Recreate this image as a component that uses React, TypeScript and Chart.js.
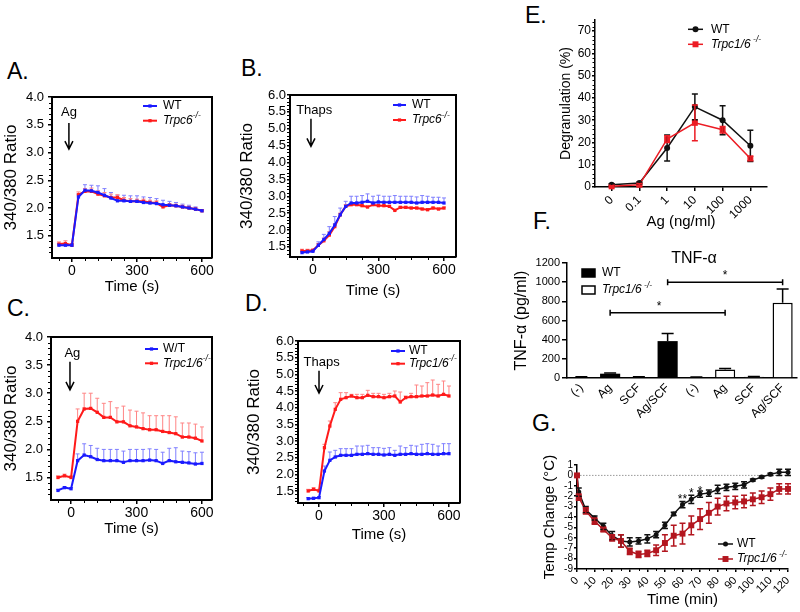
import React, { useEffect, useRef } from 'react';
import { Chart, registerables } from 'chart.js';

Chart.register(...registerables);

const FONT = "'Liberation Sans', Arial, Helvetica, sans-serif";
Chart.defaults.font.family = FONT;
Chart.defaults.color = '#000';

/* ======================= DATA ======================= */
// Panels A & C : Ag-evoked Ca2+ (340/380 ratio), sampled every 30 s
const timesAC = [-60, -30, 0, 30, 60, 90, 120, 150, 180, 210, 240, 270, 300, 330, 360, 390, 420, 450, 480, 510, 540, 570, 600];
const aWT = [1.33, 1.33, 1.33, 2.2, 2.32, 2.31, 2.28, 2.23, 2.18, 2.13, 2.13, 2.12, 2.12, 2.1, 2.09, 2.08, 2.06, 2.05, 2.04, 2.02, 2.0, 1.98, 1.95];
const aWTErr = [0.03, 0.03, 0.03, 0.05, 0.1, 0.1, 0.12, 0.12, 0.1, 0.1, 0.1, 0.1, 0.1, 0.1, 0.1, 0.09, 0.08, 0.07, 0.06, 0.05, 0.05, 0.04, 0.02];
const aKO = [1.35, 1.36, 1.33, 2.24, 2.3, 2.3, 2.25, 2.22, 2.19, 2.19, 2.14, 2.12, 2.12, 2.12, 2.1, 2.09, 2.02, 2.05, 2.04, 2.02, 2.0, 1.98, 1.95];
const aKOErr = [0.04, 0.05, 0.03, 0.05, 0.05, 0.06, 0.06, 0.06, 0.06, 0.05, 0.05, 0.05, 0.04, 0.04, 0.04, 0.04, 0.04, 0.03, 0.03, 0.03, 0.03, 0.03, 0.02];
const cWT = [1.27, 1.32, 1.3, 1.8, 1.9, 1.87, 1.82, 1.8, 1.8, 1.8, 1.77, 1.8, 1.8, 1.8, 1.81, 1.8, 1.75, 1.8, 1.78, 1.77, 1.76, 1.74, 1.75];
const cWTErr = [0.02, 0.02, 0.02, 0.12, 0.2, 0.2, 0.2, 0.2, 0.2, 0.2, 0.2, 0.2, 0.2, 0.2, 0.2, 0.2, 0.2, 0.22, 0.25, 0.2, 0.2, 0.2, 0.2];
const cKO = [1.5, 1.53, 1.5, 2.5, 2.72, 2.73, 2.66, 2.57, 2.57, 2.49, 2.49, 2.42, 2.4, 2.37, 2.35, 2.35, 2.32, 2.3, 2.28, 2.22, 2.22, 2.2, 2.15];
const cKOErr = [0.03, 0.03, 0.03, 0.22, 0.28, 0.27, 0.25, 0.25, 0.28, 0.25, 0.28, 0.28, 0.28, 0.28, 0.25, 0.25, 0.28, 0.3, 0.3, 0.25, 0.25, 0.25, 0.25];

// Panels B & D : thapsigargin-evoked Ca2+, sampled every 25 s
const timesBD = [-50, -25, 0, 25, 50, 75, 100, 125, 150, 175, 200, 225, 250, 275, 300, 325, 350, 375, 400, 425, 450, 475, 500, 525, 550, 575, 600];
const bWT = [1.33, 1.35, 1.37, 1.55, 1.72, 1.9, 2.15, 2.45, 2.7, 2.8, 2.8, 2.82, 2.85, 2.8, 2.83, 2.82, 2.82, 2.82, 2.82, 2.82, 2.82, 2.8, 2.82, 2.82, 2.82, 2.82, 2.8];
const bWTErr = [0.05, 0.06, 0.05, 0.1, 0.15, 0.2, 0.25, 0.2, 0.15, 0.2, 0.2, 0.2, 0.22, 0.2, 0.2, 0.18, 0.18, 0.2, 0.18, 0.18, 0.18, 0.18, 0.2, 0.18, 0.15, 0.15, 0.15];
const bKO = [1.38, 1.38, 1.4, 1.55, 1.68, 1.85, 2.1, 2.45, 2.7, 2.75, 2.75, 2.72, 2.68, 2.75, 2.72, 2.72, 2.7, 2.58, 2.67, 2.67, 2.65, 2.65, 2.62, 2.6, 2.65, 2.62, 2.65];
const bKOErr = [0.05, 0.05, 0.03, 0.05, 0.08, 0.1, 0.08, 0.05, 0.05, 0.03, 0.03, 0.03, 0.03, 0.03, 0.03, 0.03, 0.03, 0.03, 0.03, 0.03, 0.03, 0.03, 0.03, 0.03, 0.03, 0.03, 0.03];
const dWT = [1.27, 1.28, 1.3, 2.1, 2.42, 2.52, 2.57, 2.57, 2.57, 2.6, 2.6, 2.62, 2.6, 2.6, 2.58, 2.6, 2.57, 2.6, 2.6, 2.62, 2.6, 2.6, 2.62, 2.6, 2.6, 2.62, 2.62];
const dWTErr = [0.03, 0.03, 0.03, 0.15, 0.25, 0.2, 0.2, 0.2, 0.2, 0.25, 0.25, 0.25, 0.2, 0.2, 0.2, 0.2, 0.15, 0.25, 0.2, 0.25, 0.25, 0.3, 0.3, 0.3, 0.25, 0.3, 0.3];
const dKO = [1.5, 1.55, 1.5, 2.8, 3.45, 3.95, 4.25, 4.3, 4.35, 4.3, 4.3, 4.37, 4.33, 4.33, 4.3, 4.33, 4.35, 4.17, 4.3, 4.33, 4.33, 4.35, 4.35, 4.38, 4.35, 4.4, 4.35];
const dKOErr = [0.05, 0.05, 0.05, 0.1, 0.15, 0.2, 0.2, 0.15, 0.05, 0.1, 0.1, 0.15, 0.1, 0.1, 0.1, 0.1, 0.15, 0.3, 0.05, 0.1, 0.35, 0.3, 0.4, 0.45, 0.35, 0.4, 0.3];

const ratioTicksAC = [1.5, 2.0, 2.5, 3.0, 3.5, 4.0];
const ratioTicksBD = [1.5, 2.0, 2.5, 3.0, 3.5, 4.0, 4.5, 5.0, 5.5, 6.0];
const timeTicks = [0, 300, 600];

// Panel E : degranulation
const eDoses = ['0', '0.1', '1', '10', '100', '1000'];
const eWT = [1.0, 1.8, 17.5, 36, 30, 18.5];
const eWTErr = [0.5, 0.5, 5.8, 5.8, 6.5, 7];
const eKO = [0.3, 1.0, 21.5, 28.8, 25.7, 12.8];
const eKOErr = [0.3, 0.5, 1.5, 8, 1.5, 1];
const eTicks = [0, 10, 20, 30, 40, 50, 60, 70];

// Panel F : TNF-alpha
const fStim = ['(-)', 'Ag', 'SCF', 'Ag/SCF'];
const fWT = [10, 45, 10, 385];
const fWTErr = [3, 8, 3, 80];
const fKO = [8, 90, 12, 785];
const fKOErr = [3, 10, 3, 145];
const fTicks = [0, 200, 400, 600, 800, 1000, 1200];

// Panel G : body temperature
const gTimes = [0, 1, 5, 10, 15, 20, 25, 30, 35, 40, 45, 50, 55, 60, 65, 70, 75, 80, 85, 90, 95, 100, 105, 110, 115, 120];
const gWT = [0, -1.6, -3.3, -4.1, -4.9, -5.8, -6.3, -6.4, -6.3, -6.1, -5.7, -4.8, -3.7, -2.8, -2.3, -1.8, -1.7, -1.35, -1.15, -1.05, -0.9, -0.45, -0.15, 0.1, 0.3, 0.3];
const gWTErr = [0, 0.4, 0.3, 0.2, 0.3, 0.4, 0.6, 0.4, 0.3, 0.4, 0.3, 0.3, 0.15, 0.3, 0.4, 0.3, 0.3, 0.4, 0.3, 0.3, 0.3, 0.1, 0.1, 0.1, 0.3, 0.3];
const gKO = [0, -2.1, -3.4, -4.4, -5.2, -6.0, -6.3, -7.3, -7.6, -7.5, -7.2, -6.5, -5.8, -5.6, -4.8, -4.2, -3.6, -3.0, -2.7, -2.6, -2.5, -2.3, -2.1, -1.8, -1.3, -1.3];
const gKOErr = [0, 0.3, 0.3, 0.3, 0.2, 0.3, 0.6, 0.3, 0.3, 0.3, 0.5, 0.8, 1.0, 1.0, 0.9, 1.0, 1.0, 0.8, 0.7, 0.6, 0.6, 0.6, 0.6, 0.6, 0.5, 0.5];
const gTicks = [0, 10, 20, 30, 40, 50, 60, 70, 80, 90, 100, 110, 120];
const gYTicks = [-9, -8, -7, -6, -5, -4, -3, -2, -1, 0, 1];

/* ======================= STYLE ======================= */
const BLUE = '#1a1aff';
const RED = '#ff1a1a';
const BLUE_ERR = '#7f7fff';
const RED_ERR = '#ff8585';
const E_RED = '#ec1c24';
const G_RED = '#b3161f';

const WT_PARTS = [{ t: 'WT' }];
const KO6 = [{ t: 'Trpc6', i: true }, { t: '-/-', i: true, sup: true }];
const KO16 = [{ t: 'Trpc1/6', i: true }, { t: '-/-', i: true, sup: true }];
const KO16s = [{ t: 'Trpc1/6', i: true }, { t: ' -/-', i: true, sup: true }];

const pts = (xs: number[], ys: number[]) => xs.map((x, i) => ({ x, y: ys[i] }));

function minorRange(a: number, b: number, step: number, skip: number[]) {
  const out: number[] = [];
  const n = Math.round((b - a) / step);
  for (let k = 0; k <= n; k++) {
    const v = Math.round((a + k * step) * 1000) / 1000;
    if (!skip.some((s) => Math.abs(s - v) < 1e-6)) out.push(v);
  }
  return out;
}

function drawRich(ctx: any, parts: any[], x: number, y: number, size: number) {
  ctx.textBaseline = 'middle';
  ctx.textAlign = 'left';
  let cx = x;
  for (const p of parts) {
    const s = p.sup ? size * 0.7 : size;
    ctx.font = `${p.i ? 'italic ' : ''}${s}px ${FONT}`;
    ctx.fillText(p.t, cx, p.sup ? y - size * 0.38 : y);
    cx += ctx.measureText(p.t).width;
  }
}

function makeExtras(ex: any) {
  const drawErrors = (chart: any, behind: boolean) => {
    if (!ex.errors) return;
    const ctx = chart.ctx;
    for (const e of ex.errors) {
      if (!!e.behind !== behind) continue;
      const meta = chart.getDatasetMeta(e.ds);
      const ys = chart.scales[meta.yAxisID];
      const data = chart.data.datasets[e.ds].data;
      ctx.save();
      ctx.strokeStyle = e.color;
      ctx.lineWidth = e.width;
      meta.data.forEach((el: any, i: number) => {
        const raw = data[i];
        const v = raw !== null && typeof raw === 'object' ? raw.y : raw;
        const err = e.errs[i];
        if (v == null || err == null || err === 0) return;
        const x = el.x;
        const y0 = ys.getPixelForValue(v);
        const yt = ys.getPixelForValue(v + err);
        const yb = e.mode === 'both' ? ys.getPixelForValue(v - err) : y0;
        ctx.beginPath();
        ctx.moveTo(x, yb);
        ctx.lineTo(x, yt);
        ctx.moveTo(x - e.cap / 2, yt);
        ctx.lineTo(x + e.cap / 2, yt);
        if (e.mode === 'both') {
          ctx.moveTo(x - e.cap / 2, yb);
          ctx.lineTo(x + e.cap / 2, yb);
        }
        ctx.stroke();
      });
      ctx.restore();
    }
  };
  return {
    id: 'panelExtras',
    beforeDatasetsDraw(chart: any) {
      const { ctx, chartArea: ca, scales } = chart;
      if (ex.hline) {
        const y = scales.y.getPixelForValue(ex.hline.value);
        ctx.save();
        ctx.strokeStyle = ex.hline.color;
        ctx.lineWidth = 1;
        ctx.setLineDash([1.5, 1.5]);
        ctx.beginPath();
        ctx.moveTo(ca.left, y);
        ctx.lineTo(ca.right, y);
        ctx.stroke();
        ctx.restore();
      }
      drawErrors(chart, true);
    },
    afterDatasetsDraw(chart: any) {
      drawErrors(chart, false);
    },
    afterDraw(chart: any) {
      const { ctx, chartArea: ca, scales } = chart;
      const xs = scales.x;
      const ys = scales.y;
      ctx.save();
      ctx.strokeStyle = '#000';
      ctx.fillStyle = '#000';
      if (ex.frame) {
        ctx.lineWidth = ex.frame;
        ctx.beginPath();
        ctx.moveTo(ca.left, ca.top);
        ctx.lineTo(ca.right, ca.top);
        ctx.lineTo(ca.right, ca.bottom);
        ctx.stroke();
      }
      ctx.lineWidth = 1;
      const ml = ex.minorLen || 3;
      (ex.minorY || []).forEach((v: number) => {
        const y = Math.round(ys.getPixelForValue(v)) + 0.5;
        ctx.beginPath();
        ctx.moveTo(ca.left, y);
        ctx.lineTo(ca.left - ml, y);
        ctx.stroke();
      });
      (ex.minorX || []).forEach((v: number) => {
        const x = Math.round(xs.getPixelForValue(v)) + 0.5;
        ctx.beginPath();
        ctx.moveTo(x, ca.bottom);
        ctx.lineTo(x, ca.bottom + ml);
        ctx.stroke();
      });
      (ex.arrows || []).forEach((a: any) => {
        const x = xs.getPixelForValue(a.x);
        const y1 = ys.getPixelForValue(a.y1);
        const y2 = ys.getPixelForValue(a.y2);
        ctx.lineWidth = 1.5;
        ctx.beginPath();
        ctx.moveTo(x, y1);
        ctx.lineTo(x, y2);
        ctx.moveTo(x - 4, y2 - 8);
        ctx.lineTo(x, y2);
        ctx.lineTo(x + 4, y2 - 8);
        ctx.stroke();
      });
      (ex.labels || []).forEach((l: any) => {
        ctx.font = `${l.size}px ${FONT}`;
        ctx.textAlign = 'center';
        ctx.textBaseline = 'alphabetic';
        ctx.fillText(l.text, xs.getPixelForValue(l.x), ys.getPixelForValue(l.y));
      });
      (ex.notes || []).forEach((n: any) => {
        ctx.font = `${n.size}px ${FONT}`;
        ctx.textAlign = 'center';
        ctx.textBaseline = 'middle';
        ctx.fillText(n.text, ca.left + n.dx, ca.top + n.dy);
      });
      (ex.sig || []).forEach((s: any) => {
        const x1 = xs.getPixelForValue(s.from);
        const x2 = xs.getPixelForValue(s.to);
        const y = ys.getPixelForValue(s.value);
        ctx.lineWidth = 1.5;
        ctx.beginPath();
        ctx.moveTo(x1, y);
        ctx.lineTo(x2, y);
        ctx.moveTo(x1, y - 3);
        ctx.lineTo(x1, y + 3);
        ctx.moveTo(x2, y - 3);
        ctx.lineTo(x2, y + 3);
        ctx.stroke();
        ctx.font = `12px ${FONT}`;
        ctx.textAlign = 'center';
        ctx.textBaseline = 'alphabetic';
        ctx.fillText('*', xs.getPixelForValue(s.starAt), y - 3);
      });
      (ex.stars || []).forEach((s: any) => {
        ctx.font = `12px ${FONT}`;
        ctx.textAlign = 'center';
        ctx.textBaseline = 'alphabetic';
        ctx.fillText(s.t, xs.getPixelForValue(s.x), ys.getPixelForValue(s.y) + 7);
      });
      const lg = ex.legend;
      if (lg) {
        lg.items.forEach((it: any, k: number) => {
          const y = ca.top + lg.y + k * lg.dy;
          const x1 = ca.left + lg.x1;
          const x2 = ca.left + lg.x2;
          if (it.marker === 'fillbox' || it.marker === 'openbox') {
            ctx.fillStyle = it.marker === 'fillbox' ? '#000' : '#fff';
            ctx.fillRect(x1, y - 4, x2 - x1, 8);
            ctx.strokeStyle = '#000';
            ctx.lineWidth = 1.5;
            ctx.strokeRect(x1, y - 4, x2 - x1, 8);
          } else {
            ctx.strokeStyle = it.color;
            ctx.fillStyle = it.color;
            ctx.lineWidth = lg.lw;
            ctx.beginPath();
            ctx.moveTo(x1, y);
            ctx.lineTo(x2, y);
            ctx.stroke();
            const cx = (x1 + x2) / 2;
            if (it.marker === 'circle') {
              ctx.beginPath();
              ctx.arc(cx, y, it.mr, 0, Math.PI * 2);
              ctx.fill();
            } else {
              const s = it.mr * Math.SQRT1_2;
              ctx.fillRect(cx - s, y - s, 2 * s, 2 * s);
            }
          }
          ctx.fillStyle = '#000';
          drawRich(ctx, it.parts, ca.left + lg.tx, y, lg.size);
        });
      }
      ctx.restore();
    },
  };
}

function layout(box: number[], area: number[], yTitleX: number, yTitleSize: number, xTitleY: number, xTitleSize: number, xHeightFixed?: number) {
  const [x0, y0, w, h] = box;
  const [L, T, R, B] = area;
  const Lc = L - x0;
  const Tc = T - y0;
  const Rc = R - x0;
  const Bc = B - y0;
  const padLeft = Math.max(0, yTitleX - x0 - yTitleSize * 0.6);
  const yWidth = Lc - padLeft;
  const xHeight = xHeightFixed != null ? xHeightFixed : xTitleY - y0 + xTitleSize * 0.6 - Bc;
  const padBottom = Math.max(0, h - Bc - xHeight);
  return { padding: { left: padLeft, top: Tc, right: w - Rc, bottom: padBottom }, yWidth, xHeight };
}

function axisCfg(a: any, fit: (s: any) => void) {
  const ticks: any = {
    font: { size: a.size, family: FONT },
    color: '#000',
    padding: a.pad,
    autoSkip: false,
    maxRotation: a.rot || 0,
    minRotation: a.rot || 0,
  };
  if (a.fmt) ticks.callback = (v: any) => a.fmt(v);
  const cfg: any = {
    type: a.type || 'linear',
    afterFit: fit,
    ticks,
    grid: {
      display: true,
      drawOnChartArea: false,
      drawTicks: a.tickLen > 0,
      tickLength: a.tickLen,
      color: '#000',
      lineWidth: a.tickW || 1.5,
    },
    border: { display: true, color: '#000', width: a.border },
    title: a.title
      ? { display: true, text: a.title, font: { size: a.titleSize, family: FONT }, color: '#000', padding: 0 }
      : { display: false },
  };
  if (cfg.type === 'linear') {
    cfg.min = a.min;
    cfg.max = a.max;
    const list = a.ticks;
    cfg.afterBuildTicks = (s: any) => {
      s.ticks = list.map((v: number) => ({ value: v }));
    };
  }
  return cfg;
}

function buildConfig(p: any) {
  const L = layout(p.box, p.area, p.yTitleX, p.y.titleSize || 0, p.xTitleY || 0, p.x.titleSize || 0, p.xHeight);
  return {
    box: p.box,
    config: {
      type: p.type,
      data: p.data,
      options: {
        responsive: false,
        maintainAspectRatio: false,
        animation: false,
        devicePixelRatio: 1,
        events: [],
        layout: { padding: L.padding },
        plugins: { legend: { display: false }, tooltip: { enabled: false }, title: { display: false } },
        scales: {
          x: axisCfg(p.x, (s: any) => {
            s.height = L.xHeight;
          }),
          y: axisCfg(p.y, (s: any) => {
            s.width = L.yWidth;
          }),
        },
      },
      plugins: [makeExtras(p.extras)],
    },
  };
}

function trace(label: string, xs: number[], ys: number[], color: string) {
  return {
    label,
    data: pts(xs, ys),
    borderColor: color,
    backgroundColor: color,
    borderWidth: 2,
    pointStyle: 'rect',
    pointRadius: 2.3,
    pointBorderWidth: 0,
    pointHoverRadius: 0,
    tension: 0,
    clip: false,
  };
}

/* ---------- Ca2+ trace panels (A-D) ---------- */
function caPanel(o: any) {
  const bd = o.kind === 'BD';
  const yTicks = bd ? ratioTicksBD : ratioTicksAC;
  const minorXs = bd ? [-75, 75, 150, 225, 375, 450, 525] : [-60, 60, 120, 180, 240, 360, 420, 480, 540];
  return buildConfig({
    type: 'line',
    box: o.box,
    area: o.area,
    yTitleX: o.yTitleX,
    xTitleY: o.xTitleY,
    data: {
      datasets: [trace('WT', o.times, o.wt, BLUE), trace('KO', o.times, o.ko, RED)],
    },
    x: {
      min: o.xMin, max: o.xMax, ticks: timeTicks, fmt: (v: number) => String(v),
      size: 14, tickLen: 4, pad: 1, title: 'Time (s)', titleSize: 15, border: 2,
    },
    y: {
      min: o.yMin, max: bd ? 6.0 : 4.0, ticks: yTicks, fmt: (v: number) => Number(v).toFixed(1),
      size: 13, tickLen: bd ? 3 : 4, pad: bd ? 1 : 4, title: '340/380 Ratio', titleSize: 17, border: 2,
    },
    extras: {
      frame: 2,
      minorLen: 3,
      minorX: minorXs.filter((v) => v > o.xMin),
      minorY: minorRange(1.2, bd ? 5.9 : 3.9, 0.1, yTicks).filter((v) => v > o.yMin),
      errors: [
        { ds: 0, errs: o.wtErr, mode: 'up', color: BLUE_ERR, width: 1, cap: 4, behind: true },
        { ds: 1, errs: o.koErr, mode: 'up', color: RED_ERR, width: 1, cap: 4, behind: true },
      ],
      arrows: [o.arrow],
      labels: [o.label],
      legend: {
        ...o.legend,
        size: 12,
        lw: 2,
        items: [
          { color: BLUE, marker: 'rect', mr: 2.3, parts: o.wtParts || WT_PARTS },
          { color: RED, marker: 'rect', mr: 2.3, parts: o.koParts },
        ],
      },
    },
  });
}

const buildA = () =>
  caPanel({
    kind: 'AC', box: [0, 85, 235, 215], area: [52, 97, 212, 258], yTitleX: 11.7, xTitleY: 287,
    xMin: -92, xMax: 646, yMin: 1.1, times: timesAC, wt: aWT, wtErr: aWTErr, ko: aKO, koErr: aKOErr,
    arrow: { x: -14, y1: 3.53, y2: 3.06 }, label: { text: 'Ag', x: -14, y: 3.66, size: 13 },
    legend: { x1: 91, x2: 105, y: 9, dy: 14.7, tx: 111 }, koParts: KO6,
  });

const buildB = () =>
  caPanel({
    kind: 'BD', box: [235, 85, 235, 215], area: [290, 95, 456, 257], yTitleX: 247.5, xTitleY: 291,
    xMin: -105, xMax: 655, yMin: 1.2, times: timesBD, wt: bWT, wtErr: bWTErr, ko: bKO, koErr: bKOErr,
    arrow: { x: -9, y1: 5.3, y2: 4.48 }, label: { text: 'Thaps', x: 6, y: 5.45, size: 13 },
    legend: { x1: 103, x2: 116, y: 10, dy: 15, tx: 122 }, koParts: KO6,
  });

const buildC = () =>
  caPanel({
    kind: 'AC', box: [0, 325, 235, 215], area: [51, 337, 212, 500], yTitleX: 11.7, xTitleY: 529,
    xMin: -92, xMax: 646, yMin: 1.1, times: timesAC, wt: cWT, wtErr: cWTErr, ko: cKO, koErr: cKOErr,
    arrow: { x: -5, y1: 3.56, y2: 3.06 }, label: { text: 'Ag', x: 6, y: 3.64, size: 13 },
    legend: { x1: 94, x2: 107, y: 12, dy: 14.3, tx: 112 }, koParts: KO16, wtParts: [{ t: 'W/T' }],
  });

const buildD = () =>
  caPanel({
    kind: 'BD', box: [235, 325, 235, 225], area: [298, 341, 460, 503], yTitleX: 254, xTitleY: 535,
    xMin: -97, xMax: 651, yMin: 1.14, times: timesBD, wt: dWT, wtErr: dWTErr, ko: dKO, koErr: dKOErr,
    arrow: { x: 0, y1: 5.11, y2: 4.44 }, label: { text: 'Thaps', x: 12, y: 5.25, size: 13 },
    legend: { x1: 93, x2: 107, y: 10, dy: 12.7, tx: 111 }, koParts: KO16,
  });

/* ---------- Panel E ---------- */
const buildE = () =>
  buildConfig({
    type: 'line',
    box: [470, 0, 330, 233],
    area: [595, 20, 767, 187],
    yTitleX: 566,
    xTitleY: 222,
    data: {
      datasets: [
        {
          label: 'Trpc1/6-/-', data: pts([0, 1, 2, 3, 4, 5], eKO), borderColor: E_RED, backgroundColor: E_RED,
          borderWidth: 1.5, pointStyle: 'rect', pointRadius: 4.2, pointBorderWidth: 0, tension: 0, clip: false,
        },
        {
          label: 'WT', data: pts([0, 1, 2, 3, 4, 5], eWT), borderColor: '#111', backgroundColor: '#111',
          borderWidth: 1.5, pointStyle: 'circle', pointRadius: 3, pointBorderWidth: 0, tension: 0, clip: false,
        },
      ],
    },
    x: {
      min: -0.6, max: 5.6, ticks: [0, 1, 2, 3, 4, 5], fmt: (v: number) => eDoses[v],
      size: 12, tickLen: 4, pad: 2, rot: 45, title: 'Ag (ng/ml)', titleSize: 15, border: 1.5,
    },
    y: {
      min: 0, max: 75, ticks: eTicks, fmt: (v: number) => String(v),
      size: 12, tickLen: 3, pad: 1, title: 'Degranulation (%)', titleSize: 14, border: 1.5,
    },
    extras: {
      minorLen: 2.5,
      minorY: minorRange(2, 74, 2, eTicks),
      errors: [
        { ds: 1, errs: eWTErr, mode: 'both', color: '#111', width: 1.5, cap: 6 },
        { ds: 0, errs: eKOErr, mode: 'both', color: E_RED, width: 1.5, cap: 6 },
      ],
      legend: {
        x1: 93, x2: 108, y: 9.3, dy: 15, tx: 116, size: 12, lw: 1.5,
        items: [
          { color: '#111', marker: 'circle', mr: 3, parts: WT_PARTS },
          { color: E_RED, marker: 'rect', mr: 4.2, parts: KO16s },
        ],
      },
    },
  });

/* ---------- Panel F ---------- */
const buildF = () =>
  buildConfig({
    type: 'bar',
    box: [470, 233, 330, 190],
    area: [567, 263, 797, 378],
    yTitleX: 522,
    xHeight: 40,
    data: {
      labels: [...fStim, ...fStim],
      datasets: [
        {
          label: 'WT', data: [...fWT, null, null, null, null], backgroundColor: '#000', borderColor: '#000',
          borderWidth: 0, barPercentage: 0.7, categoryPercentage: 1, skipNull: true,
        },
        {
          label: 'Trpc1/6-/-', data: [null, null, null, null, ...fKO], backgroundColor: '#fff', borderColor: '#000',
          borderWidth: 1.5, barPercentage: 0.7, categoryPercentage: 1, skipNull: true,
        },
      ],
    },
    x: { type: 'category', size: 12, tickLen: 0, pad: 3, rot: 45, border: 1.5 },
    y: {
      min: 0, max: 1200, ticks: fTicks, fmt: (v: number) => String(v),
      size: 11, tickLen: 5, pad: 2, title: 'TNF-α (pg/ml)', titleSize: 16, border: 1.5,
    },
    extras: {
      errors: [
        { ds: 0, errs: [...fWTErr, null, null, null, null], mode: 'up', color: '#000', width: 1.5, cap: 12 },
        { ds: 1, errs: [null, null, null, null, ...fKOErr], mode: 'up', color: '#000', width: 1.5, cap: 12 },
      ],
      notes: [{ text: 'TNF-α', dx: 127, dy: -4, size: 16 }],
      sig: [
        { from: 1, to: 5, value: 680, starAt: 2.7 },
        { from: 3, to: 7, value: 1000, starAt: 5 },
      ],
      legend: {
        x1: 15, x2: 28, y: 10, dy: 17, tx: 35, size: 12, lw: 1.5,
        items: [
          { marker: 'fillbox', parts: WT_PARTS },
          { marker: 'openbox', parts: KO16s },
        ],
      },
    },
  });

/* ---------- Panel G ---------- */
const buildG = () =>
  buildConfig({
    type: 'line',
    box: [470, 425, 330, 187],
    area: [577, 465, 788, 569],
    yTitleX: 550,
    xTitleY: 600,
    data: {
      datasets: [
        {
          label: 'Trpc1/6-/-', data: pts(gTimes, gKO), borderColor: G_RED, backgroundColor: G_RED,
          borderWidth: 1.5, pointStyle: 'rect', pointRadius: 4.2, pointBorderWidth: 0, tension: 0, clip: false,
        },
        {
          label: 'WT', data: pts(gTimes, gWT), borderColor: '#111', backgroundColor: '#111',
          borderWidth: 1.5, pointStyle: 'circle', pointRadius: 2.5, pointBorderWidth: 0, tension: 0, clip: false,
        },
      ],
    },
    x: {
      min: 0, max: 120, ticks: gTicks, fmt: (v: number) => String(v),
      size: 11, tickLen: 3, pad: 2, rot: 45, title: 'Time (min)', titleSize: 15, border: 1.5,
    },
    y: {
      min: -9, max: 1, ticks: gYTicks, fmt: (v: number) => String(v),
      size: 10, tickLen: 3, pad: 1, title: 'Temp Change (°C)', titleSize: 15, border: 1.5,
    },
    extras: {
      minorLen: 2,
      minorX: minorRange(5, 115, 10, []),
      hline: { value: 0, color: '#9a9a9a' },
      errors: [
        { ds: 1, errs: gWTErr, mode: 'both', color: '#111', width: 1.5, cap: 6 },
        { ds: 0, errs: gKOErr, mode: 'both', color: G_RED, width: 1.5, cap: 6 },
      ],
      stars: [
        { x: 60, y: -2.0, t: '**' },
        { x: 65, y: -1.45, t: '*' },
        { x: 70, y: -1.2, t: '*' },
      ],
      legend: {
        x1: 141, x2: 156, y: 79, dy: 15, tx: 160, size: 12, lw: 1.5,
        items: [
          { color: '#111', marker: 'circle', mr: 2.5, parts: WT_PARTS },
          { color: G_RED, marker: 'rect', mr: 4.2, parts: KO16s },
        ],
      },
    },
  });

function Panel({ build }: { build: () => any }) {
  const ref = useRef<HTMLCanvasElement | null>(null);
  const box = build().box;
  useEffect(() => {
    const spec = build();
    const chart = new Chart(ref.current as HTMLCanvasElement, spec.config as any);
    return () => chart.destroy();
  }, [build]);
  return (
    <canvas
      ref={ref}
      width={box[2]}
      height={box[3]}
      style={{ position: 'absolute', left: box[0], top: box[1], width: box[2], height: box[3] }}
    />
  );
}

const panelLetters = [
  { t: 'A.', x: 7, y: 63 },
  { t: 'B.', x: 241, y: 60 },
  { t: 'C.', x: 7, y: 300 },
  { t: 'D.', x: 245, y: 295 },
  { t: 'E.', x: 525, y: 7 },
  { t: 'F.', x: 533, y: 213 },
  { t: 'G.', x: 532, y: 415 },
];

export default function App() {
  return (
    <div
      style={{
        position: 'fixed', left: 0, top: 0, width: 800, height: 612, background: '#fff',
        fontFamily: FONT, overflow: 'hidden',
      }}
    >
      {panelLetters.map((l) => (
        <div
          key={l.t}
          style={{ position: 'absolute', left: l.x, top: l.y - 3, fontSize: 23, lineHeight: '23px', color: '#000' }}
        >
          {l.t}
        </div>
      ))}
      <Panel build={buildA} />
      <Panel build={buildB} />
      <Panel build={buildC} />
      <Panel build={buildD} />
      <Panel build={buildE} />
      <Panel build={buildF} />
      <Panel build={buildG} />
    </div>
  );
}
